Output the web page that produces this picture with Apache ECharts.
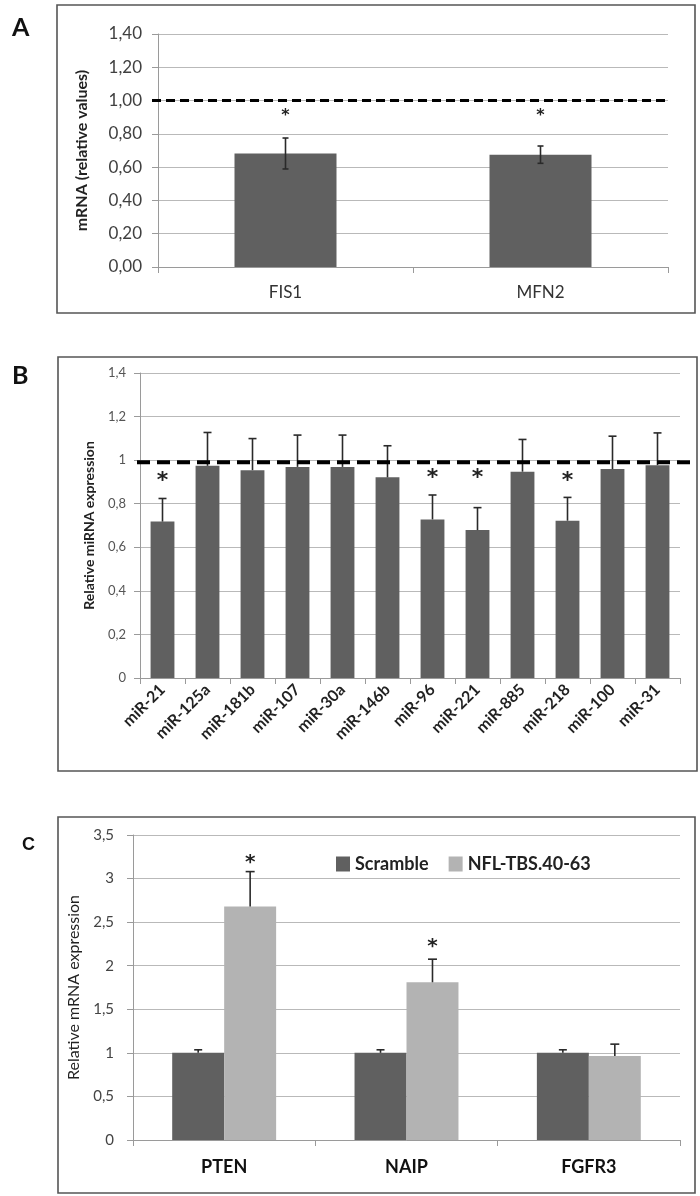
<!DOCTYPE html>
<html><head><meta charset="utf-8">
<script src="https://cdn.jsdelivr.net/npm/echarts@6/dist/echarts.min.js"></script>
<style>html,body{margin:0;padding:0;background:#fff}#c{width:700px;height:1196px}</style>
</head><body><div id="c"></div>
<script>
// ---------- Panel A ----------
const catsA = ['FIS1', 'MFN2'];
const valsA = [0.682, 0.675];
const errA = [0.093, 0.052];
const sigA = [0.925, 0.925];
const refA = 1.0;
const yTicksA = ['0,00', '0,20', '0,40', '0,60', '0,80', '1,00', '1,20', '1,40'];

// ---------- Panel B ----------
const catsB = ['miR-21', 'miR-125a', 'miR-181b', 'miR-107', 'miR-30a', 'miR-146b', 'miR-96', 'miR-221', 'miR-885', 'miR-218', 'miR-100', 'miR-31'];
const valsB = [0.718, 0.974, 0.954, 0.969, 0.969, 0.921, 0.728, 0.679, 0.947, 0.722, 0.959, 0.977];
const errB = [0.106, 0.153, 0.145, 0.146, 0.146, 0.145, 0.112, 0.103, 0.148, 0.107, 0.151, 0.148];
const sigB = [0.924, null, null, null, null, null, 0.939, 0.939, null, 0.922, null, null];
const refB = 0.99;
const yTicksB = ['0', '0,2', '0,4', '0,6', '0,8', '1', '1,2', '1,4'];

// ---------- Panel C ----------
const catsC = ['PTEN', 'NAIP', 'FGFR3'];
const seriesNamesC = ['Scramble', 'NFL-TBS.40-63'];
const scrambleC = [1.0, 1.0, 1.0];
const scrambleErrC = [0.035, 0.035, 0.035];
const nflC = [2.68, 1.81, 0.965];
const nflErrC = [0.40, 0.265, 0.135];
const sigC = [3.23, 2.26, null];
const yTicksC = ['0', '0,5', '1', '1,5', '2', '2,5', '3', '3,5'];

const DARK = '#606060', LIGHT = '#b3b3b3';
const FONT = 'Lato, "Open Sans", sans-serif';

function errSeries(idx, vals, errs, offsetFrac, cap, both) {
  return {
    type: 'custom', xAxisIndex: idx, yAxisIndex: idx, z: 5, silent: true,
    data: vals.map((v, i) => [i, v, errs[i]]),
    renderItem: (params, api) => {
      const i = api.value(0), v = api.value(1), e = api.value(2);
      const band = api.size([1, 0])[0];
      const x = api.coord([i, v])[0] + offsetFrac * band;
      const yT = api.coord([i, v + e])[1];
      const yB = both ? api.coord([i, v - e])[1] : api.coord([i, v])[1];
      const st = { stroke: '#2a2a2a', lineWidth: 1.6 };
      const ch = [
        { type: 'line', shape: { x1: x, y1: yT, x2: x, y2: yB }, style: st },
        { type: 'line', shape: { x1: x - cap, y1: yT, x2: x + cap, y2: yT }, style: st }
      ];
      if (both) ch.push({ type: 'line', shape: { x1: x - cap, y1: yB, x2: x + cap, y2: yB }, style: st });
      return { type: 'group', children: ch };
    }
  };
}

function sigSeries(idx, sig, offsetFrac, size) {
  return {
    type: 'custom', xAxisIndex: idx, yAxisIndex: idx, z: 6, silent: true,
    data: sig.map((v, i) => [i, v]).filter(d => d[1] !== null),
    renderItem: (params, api) => {
      const band = api.size([1, 0])[0];
      const p = api.coord([api.value(0), api.value(1)]);
      return {
        type: 'text', x: p[0] + offsetFrac * band, y: p[1] + size * 0.2,
        style: { text: '*', fontSize: size, fontWeight: 'bold', fill: '#222', align: 'center', verticalAlign: 'middle', fontFamily: '"DejaVu Sans", sans-serif' }
      };
    }
  };
}

function refSeries(idx, val, extL, extR, lw, dash) {
  return {
    type: 'custom', xAxisIndex: idx, yAxisIndex: idx, z: 7, silent: true, clip: false,
    data: [[0, val]],
    renderItem: (params, api) => {
      const cs = params.coordSys;
      const y = api.coord([0, api.value(1)])[1];
      return {
        type: 'line', shape: { x1: cs.x - extL, y1: y, x2: cs.x + cs.width + extR, y2: y },
        style: { stroke: '#000', lineWidth: lw, lineDash: dash }
      };
    }
  };
}

const axisLineCol = '#9a9a9a', gridCol = '#b9b9b9';

function yAxisCfg(idx, max, interval, ticks, fs, col, margin, name, nameFs, nameW, nameGap) {
  return {
    type: 'value', gridIndex: idx, min: 0, max: max, interval: interval,
    axisLine: { show: true, lineStyle: { color: axisLineCol, width: 1 } },
    axisTick: { show: true, length: 6, lineStyle: { color: axisLineCol } },
    splitLine: { show: true, lineStyle: { color: gridCol, width: 1.2 } },
    axisLabel: { formatter: (v, i) => ticks[i], fontSize: fs, color: col, margin: margin, fontFamily: FONT },
    name: name, nameLocation: 'middle', nameGap: nameGap, nameRotate: 90,
    nameTextStyle: { fontSize: nameFs, fontWeight: nameW, color: '#222', fontFamily: FONT }
  };
}

function xAxisCfg(idx, data, label) {
  return {
    type: 'category', gridIndex: idx, data: data,
    axisLine: { show: true, lineStyle: { color: axisLineCol, width: 1 } },
    axisTick: { show: true, length: 6, lineStyle: { color: axisLineCol } },
    splitLine: { show: false },
    axisLabel: Object.assign({ fontFamily: FONT, interval: 0 }, label)
  };
}

const chart = echarts.init(document.getElementById('c'), null, { renderer: 'canvas' });
chart.setOption({
  animation: false,
  backgroundColor: '#fff',
  grid: [
    { left: 158, top: 34, width: 510, height: 233 },
    { left: 140, top: 373, width: 540, height: 305 },
    { left: 133, top: 835, width: 547, height: 305 }
  ],
  legend: {
    data: seriesNamesC, left: 331, top: 850, icon: 'rect', itemWidth: 14, itemHeight: 15, itemGap: 20,
    textStyle: { fontSize: 18, fontWeight: 'bold', color: '#222', fontFamily: FONT }
  },
  xAxis: [
    xAxisCfg(0, catsA, { fontSize: 17, color: '#333', margin: 17 }),
    xAxisCfg(1, catsB, { fontSize: 16, fontWeight: 'bold', color: '#222', rotate: 45, margin: 9 }),
    xAxisCfg(2, catsC, { fontSize: 18, fontWeight: 'bold', color: '#111', margin: 18 })
  ],
  yAxis: [
    yAxisCfg(0, 1.4, 0.2, yTicksA, 17, '#404040', 16, 'mRNA (relative values)', 16, 'bold', 68),
    yAxisCfg(1, 1.4, 0.2, yTicksB, 13, '#555', 14, 'Relative miRNA expression', 14, 'bold', 44),
    yAxisCfg(2, 3.5, 0.5, yTicksC, 15, '#444', 19, 'Relative mRNA expression', 16, 'normal', 46)
  ],
  series: [
    { type: 'bar', xAxisIndex: 0, yAxisIndex: 0, data: valsA, barWidth: '40%', itemStyle: { color: DARK } },
    errSeries(0, valsA, errA, 0, 3, true),
    sigSeries(0, sigA, 0, 16),
    refSeries(0, refA, 6, 0, 3, [9, 5]),

    { type: 'bar', xAxisIndex: 1, yAxisIndex: 1, data: valsB, barWidth: '53%', itemStyle: { color: DARK } },
    errSeries(1, valsB, errB, 0, 4, false),
    sigSeries(1, sigB, 0, 22),
    refSeries(1, refB, 3, 15, 4, [13, 7]),

    { name: seriesNamesC[0], type: 'bar', xAxisIndex: 2, yAxisIndex: 2, data: scrambleC, barWidth: '28.5%', barGap: '0%', itemStyle: { color: DARK } },
    { name: seriesNamesC[1], type: 'bar', xAxisIndex: 2, yAxisIndex: 2, data: nflC, barWidth: '28.5%', barGap: '0%', itemStyle: { color: LIGHT } },
    errSeries(2, scrambleC, scrambleErrC, -0.1425, 4, false),
    errSeries(2, nflC, nflErrC, 0.1425, 4.5, false),
    sigSeries(2, sigC, 0.1425, 20)
  ],
  graphic: [
    { type: 'rect', shape: { x: 57, y: 5, width: 638, height: 308 }, style: { fill: 'none', stroke: '#555', lineWidth: 1.6 }, z: 0, silent: true },
    { type: 'rect', shape: { x: 58, y: 357, width: 639, height: 414 }, style: { fill: 'none', stroke: '#555', lineWidth: 1.6 }, z: 0, silent: true },
    { type: 'rect', shape: { x: 58, y: 817, width: 637, height: 376 }, style: { fill: 'none', stroke: '#555', lineWidth: 1.6 }, z: 0, silent: true },
    { type: 'text', left: 12, top: 15, style: { text: 'A', fontSize: 25, fontWeight: 'bold', fill: '#111', fontFamily: 'Lato, sans-serif' } },
    { type: 'text', left: 12, top: 363, style: { text: 'B', fontSize: 25, fontWeight: 'bold', fill: '#111', fontFamily: 'Lato, sans-serif' } },
    { type: 'text', left: 22, top: 836, style: { text: 'C', fontSize: 18, fontWeight: 'bold', fill: '#111', fontFamily: '"Liberation Sans", Arial, sans-serif' } }
  ]
});
</script></body></html>
